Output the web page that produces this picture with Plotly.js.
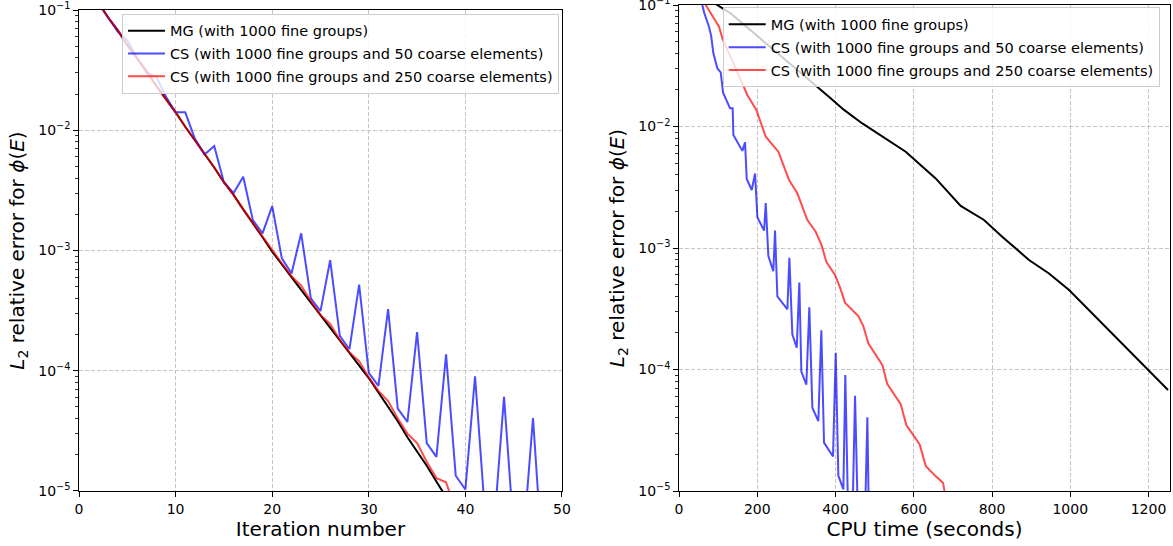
<!DOCTYPE html>
<html>
<head>
<meta charset="utf-8">
<script src="https://cdn.plot.ly/plotly-3.0.1.min.js"></script>
<style>html,body{margin:0;padding:0;background:#fff;}#chart{width:1173px;height:546px;}</style>
</head>
<body>
<div id="chart"></div>
<script>
// ---------- data ----------
const seriesNames = [
  "MG (with 1000 fine groups)",
  "CS (with 1000 fine groups and 50 coarse elements)",
  "CS (with 1000 fine groups and 250 coarse elements)"
];

// Left panel: error vs iteration number
const mgIterations = [1,2,3,4,5,6,7,8,9,10,11,12,13,14,15,16,17,18,19,20,21,22,23,24,25,26,27,28,29,30,31,32,33,34,35,36,37,38];
const mgIterError = [0.148,0.115,0.087,0.068,0.051,0.040,0.031,0.0234,0.0182,0.0141,0.0107,0.0083,0.0063,0.0049,0.0037,0.0029,0.0022,0.0017,0.00129,0.00098,0.00076,0.00060,0.00047,0.00037,0.00029,0.00023,0.000178,0.000141,0.000112,8.7e-5,6.6e-5,5.0e-5,3.8e-5,2.8e-5,2.14e-5,1.62e-5,1.20e-5,8.9e-6];

const cs50Iterations = [1,2,3,4,5,6,7,8,9,10,11,12,13,14,15,16,17,18,19,20,21,22,23,24,25,26,27,28,29,30,31,32,33,34,35,36,37,38,39,40,41,42,43,44,45,46,47,48];
const cs50Error = [0.148,0.115,0.087,0.066,0.056,0.040,0.030,0.0279,0.019,0.0141,0.0141,0.0085,0.0063,0.0074,0.0037,0.0030,0.0041,0.00179,0.00139,0.00234,0.00086,0.000645,0.00139,0.00040,0.000313,0.00083,0.000195,0.000151,0.00052,9.6e-5,7.5e-5,0.000325,4.85e-5,3.76e-5,0.00021,2.5e-5,1.92e-5,0.000137,1.34e-5,1.03e-5,9.0e-5,7.0e-6,5.5e-6,6.07e-5,4.6e-6,3.9e-6,4.05e-5,2.5e-6];

const cs250Iterations = [1,2,3,4,5,6,7,8,9,10,11,12,13,14,15,16,17,18,19,20,21,22,23,24,25,26,27,28,29,30,31,32,33,34,35,36,37,38,39];
const cs250IterError = [0.148,0.115,0.087,0.068,0.051,0.040,0.031,0.0234,0.0182,0.0141,0.0107,0.0083,0.0063,0.0049,0.0037,0.0029,0.0022,0.0017,0.00129,0.00100,0.00078,0.00061,0.00051,0.00038,0.00029,0.000245,0.00018,0.000142,0.000120,8.8e-5,6.8e-5,5.6e-5,4.0e-5,3.0e-5,2.5e-5,1.75e-5,1.28e-5,1.18e-5,6.9e-6];

// Right panel: error vs CPU time (seconds)
const mgCpuTime = [60,132,383,421.7,468.5,579.4,656,720,779.6,826,894.6,945.7,997,1082,1201,1250];
const mgCpuError = [0.119,0.0853,0.0176,0.0137,0.0106,0.0062,0.00374,0.00222,0.0017,0.00124,0.000796,0.000617,0.000451,0.00024,9.9e-5,6.78e-5];

const cs50CpuTime = [45,55,64,76.7,82,87.8,98,106.5,112.5,130.4,137,138.9,161.9,168.7,173,185.8,194.3,200.2,217.3,221.6,228.3,241,245.4,251.3,276.9,282,289.6,300.8,307.5,312.6,325.4,333,340.8,356,363.7,370.6,393.6,400.5,407.2,420,425,432,443,449.9,458,474,481.4,487];

const cs250CpuTime = [50,102.2,110.8,157.7,174.6,197.6,221.6,253.8,281.2,302.4,328,349.4,364,376.5,398.7,410.7,424.3,458.3,471,483.8,519.6,532.4,566.6,581,615.2,630.5,656.1,674.8,684];
const cs250CpuError = [0.1245,0.0664,0.0532,0.02415,0.01816,0.01368,0.00824,0.00621,0.00363,0.00282,0.0017,0.00136,0.00106,0.00077,0.0006,0.000481,0.000355,0.000275,0.000228,0.000164,0.000109,7.59e-5,5.18e-5,3.49e-5,2.42e-5,1.61e-5,1.32e-5,1.17e-5,7.9e-6];

const yTickVals = [1e-5,1e-4,1e-3,1e-2,1e-1];
const yTickText = ["10<sup>\u22125</sup>","10<sup>\u22124</sup>","10<sup>\u22123</sup>","10<sup>\u22122</sup>","10<sup>\u22121</sup>"];

// ---------- styling ----------
const colors = ["#000000","rgba(0,0,255,0.7)","rgba(255,0,0,0.7)"];
const FONT = "DejaVu Sans, Liberation Sans, sans-serif";

const minorVals = [];
for (let d = -5; d < -1; d++) {
  for (let m = 2; m <= 9; m++) minorVals.push(m * Math.pow(10, d));
}

function mkTrace(x, y, i, xa, ya, leg) {
  return {
    x: x, y: y, type: "scatter", mode: "lines",
    name: seriesNames[i],
    line: {color: colors[i], width: 2},
    xaxis: xa, yaxis: ya,
    legend: leg, legendgroup: leg + "g" + i,
    hoverinfo: "skip"
  };
}

const traces = [
  mkTrace(mgIterations, mgIterError, 0, "x", "y", "legend"),
  mkTrace(cs50Iterations, cs50Error, 1, "x", "y", "legend"),
  mkTrace(cs250Iterations, cs250IterError, 2, "x", "y", "legend"),
  mkTrace(mgCpuTime, mgCpuError, 0, "x2", "y2", "legend2"),
  mkTrace(cs50CpuTime, cs50Error, 1, "x2", "y2", "legend2"),
  mkTrace(cs250CpuTime, cs250CpuError, 2, "x2", "y2", "legend2")
];

const common = {
  showline: true, linecolor: "#000", linewidth: 1, mirror: true,
  ticks: "outside", ticklen: 4.7, tickwidth: 1, tickcolor: "#000",
  showgrid: true, gridcolor: "#b8b8b8", gridwidth: 0.8, griddash: "4px,2px",
  zeroline: false, automargin: false, ticklabeloverflow: "allow",
  tickfont: {family: FONT, size: 14, color: "#000"}
};

function yAxis(domain, anchor) {
  return Object.assign({}, common, {
    type: "log", range: [-5, -1], domain: domain, anchor: anchor,
    tickmode: "array", tickvals: yTickVals, ticktext: yTickText,
    minor: {tickmode: "array", tickvals: minorVals, ticks: "outside", ticklen: 2.7, tickwidth: 0.8, tickcolor: "#000", showgrid: false},
    title: {text: "<i>L</i><sub>2</sub> relative error for <i>\u03d5</i>(<i>E</i>)", font: {family: FONT, size: 20, color: "#000"}, standoff: 8}
  });
}

const legendStyle = {
  bgcolor: "rgba(255,255,255,0.8)", bordercolor: "#cccccc", borderwidth: 1,
  font: {family: FONT, size: 14.5, color: "#000"},
  xref: "paper", yref: "paper", xanchor: "left", yanchor: "top",
  tracegroupgap: 1, itemwidth: 37
};

const layout = {
  width: 1173, height: 546,
  margin: {l: 79, r: 3, t: 5, b: 55},
  paper_bgcolor: "#fff", plot_bgcolor: "#fff",
  font: {family: FONT, color: "#000"},
  showlegend: true,
  xaxis: Object.assign({}, common, {
    domain: [0, 0.4427], range: [0, 50], dtick: 10, tick0: 0, anchor: "y",
    title: {text: "Iteration number", font: {family: FONT, size: 20, color: "#000"}, standoff: 6}
  }),
  yaxis: yAxis([0, 0.9897], "x"),
  xaxis2: Object.assign({}, common, {
    domain: [0.55, 1], range: [0, 1255], dtick: 200, tick0: 0, anchor: "y2",
    title: {text: "CPU time (seconds)", font: {family: FONT, size: 20, color: "#000"}, standoff: 6}
  }),
  yaxis2: yAxis([0, 1], "x2"),
  legend: Object.assign({}, legendStyle, {x: 0.0394, y: 0.982}),
  legend2: Object.assign({}, legendStyle, {x: 0.590, y: 0.995})
};

Plotly.newPlot("chart", traces, layout, {displayModeBar: false, staticPlot: true});
</script>
</body>
</html>
